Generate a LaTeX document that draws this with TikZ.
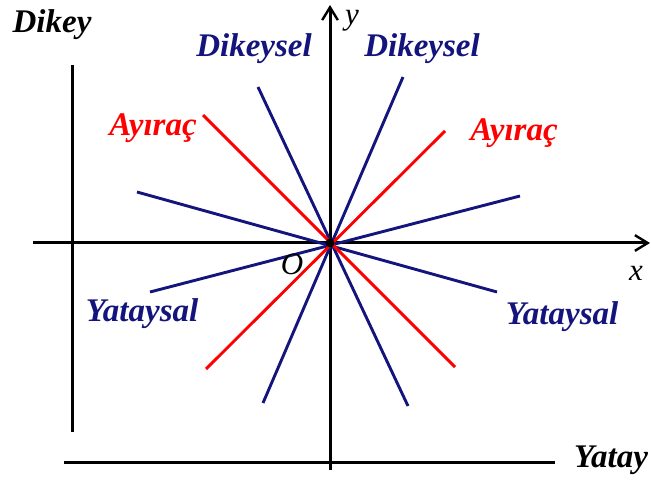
\documentclass[tikz,border=0pt]{standalone}
\usepackage{fontspec}
\setmainfont{Liberation Serif}
\usetikzlibrary{arrows.meta}
\definecolor{eksenlacivert}{RGB}{20,20,125}
\definecolor{ayiracred}{RGB}{255,0,0}

\begin{document}
\begin{tikzpicture}[x=1pt,y=-1pt,line width=3pt,
    etiket/.style={font=\fontsize{33}{38}\selectfont\bfseries\itshape,anchor=base,inner sep=0pt},
    harf/.style={font=\fontsize{31}{35}\selectfont\itshape,anchor=base,inner sep=0pt},
    eksen/.style={black,-{Straight Barb[length=4.5mm,width=5.5mm,line width=2.4pt]}},
    dogru/.style={line width=2.9pt}]
    \useasboundingbox (0,0) rectangle (651,481);
    \coordinate (O) at (330,243);
    \coordinate (xsol) at (33,243);
    \coordinate (xsag) at (650,243);
    \coordinate (yalt) at (330,470);
    \coordinate (yust) at (330,5);
    \coordinate (dikeyust) at (72,65);
    \coordinate (dikeyalt) at (72,432);
    \coordinate (yataysol) at (64,462);
    \coordinate (yataysag) at (555,462);
    \draw[eksen] (xsol) -- (xsag);
    \draw[eksen] (yalt) -- (yust);
    \draw[black] (dikeyust) -- (dikeyalt);
    \draw[black] (yataysol) -- (yataysag);
    \coordinate (d1) at (258,87);   \coordinate (d2) at (408,406);
    \coordinate (d3) at (403,77);   \coordinate (d4) at (263,403);
    \coordinate (y1) at (137,192);  \coordinate (y2) at (497,292);
    \coordinate (y3) at (520,196);  \coordinate (y4) at (150,292);
    \coordinate (a1) at (203,115);  \coordinate (a2) at (455,367);
    \coordinate (a3) at (445,131);  \coordinate (a4) at (206,369);
    \draw[dogru,eksenlacivert] (d1) -- (d2);
    \draw[dogru,eksenlacivert] (d3) -- (d4);
    \draw[dogru,eksenlacivert] (y1) -- (y2);
    \draw[dogru,eksenlacivert] (y3) -- (y4);
    \draw[dogru,ayiracred] (a1) -- (a2);
    \draw[dogru,ayiracred] (a3) -- (a4);
    \fill[black] (O) circle (4.5pt);
    \node[etiket] (dikey) at (52,33) {Dikey};
    \node[etiket] (yatay) at (611,467) {Yatay};
    \node[etiket,eksenlacivert] (dikeysel1) at (254,57) {Dikeysel};
    \node[etiket,eksenlacivert] (dikeysel2) at (422,57) {Dikeysel};
    \node[etiket,ayiracred] (ayirac1) at (153,136) {Ayıraç};
    \node[etiket,ayiracred] (ayirac2) at (514,141) {Ayıraç};
    \node[etiket,eksenlacivert] (yataysal1) at (142,322) {Yataysal};
    \node[etiket,eksenlacivert] (yataysal2) at (562,324) {Yataysal};
    \node[harf] (ylabel) at (352,25) {y};
    \node[harf] (xlabel) at (636,280) {x};
    \node[harf] (olabel) at (292,275) {O};
\end{tikzpicture}
\end{document}
